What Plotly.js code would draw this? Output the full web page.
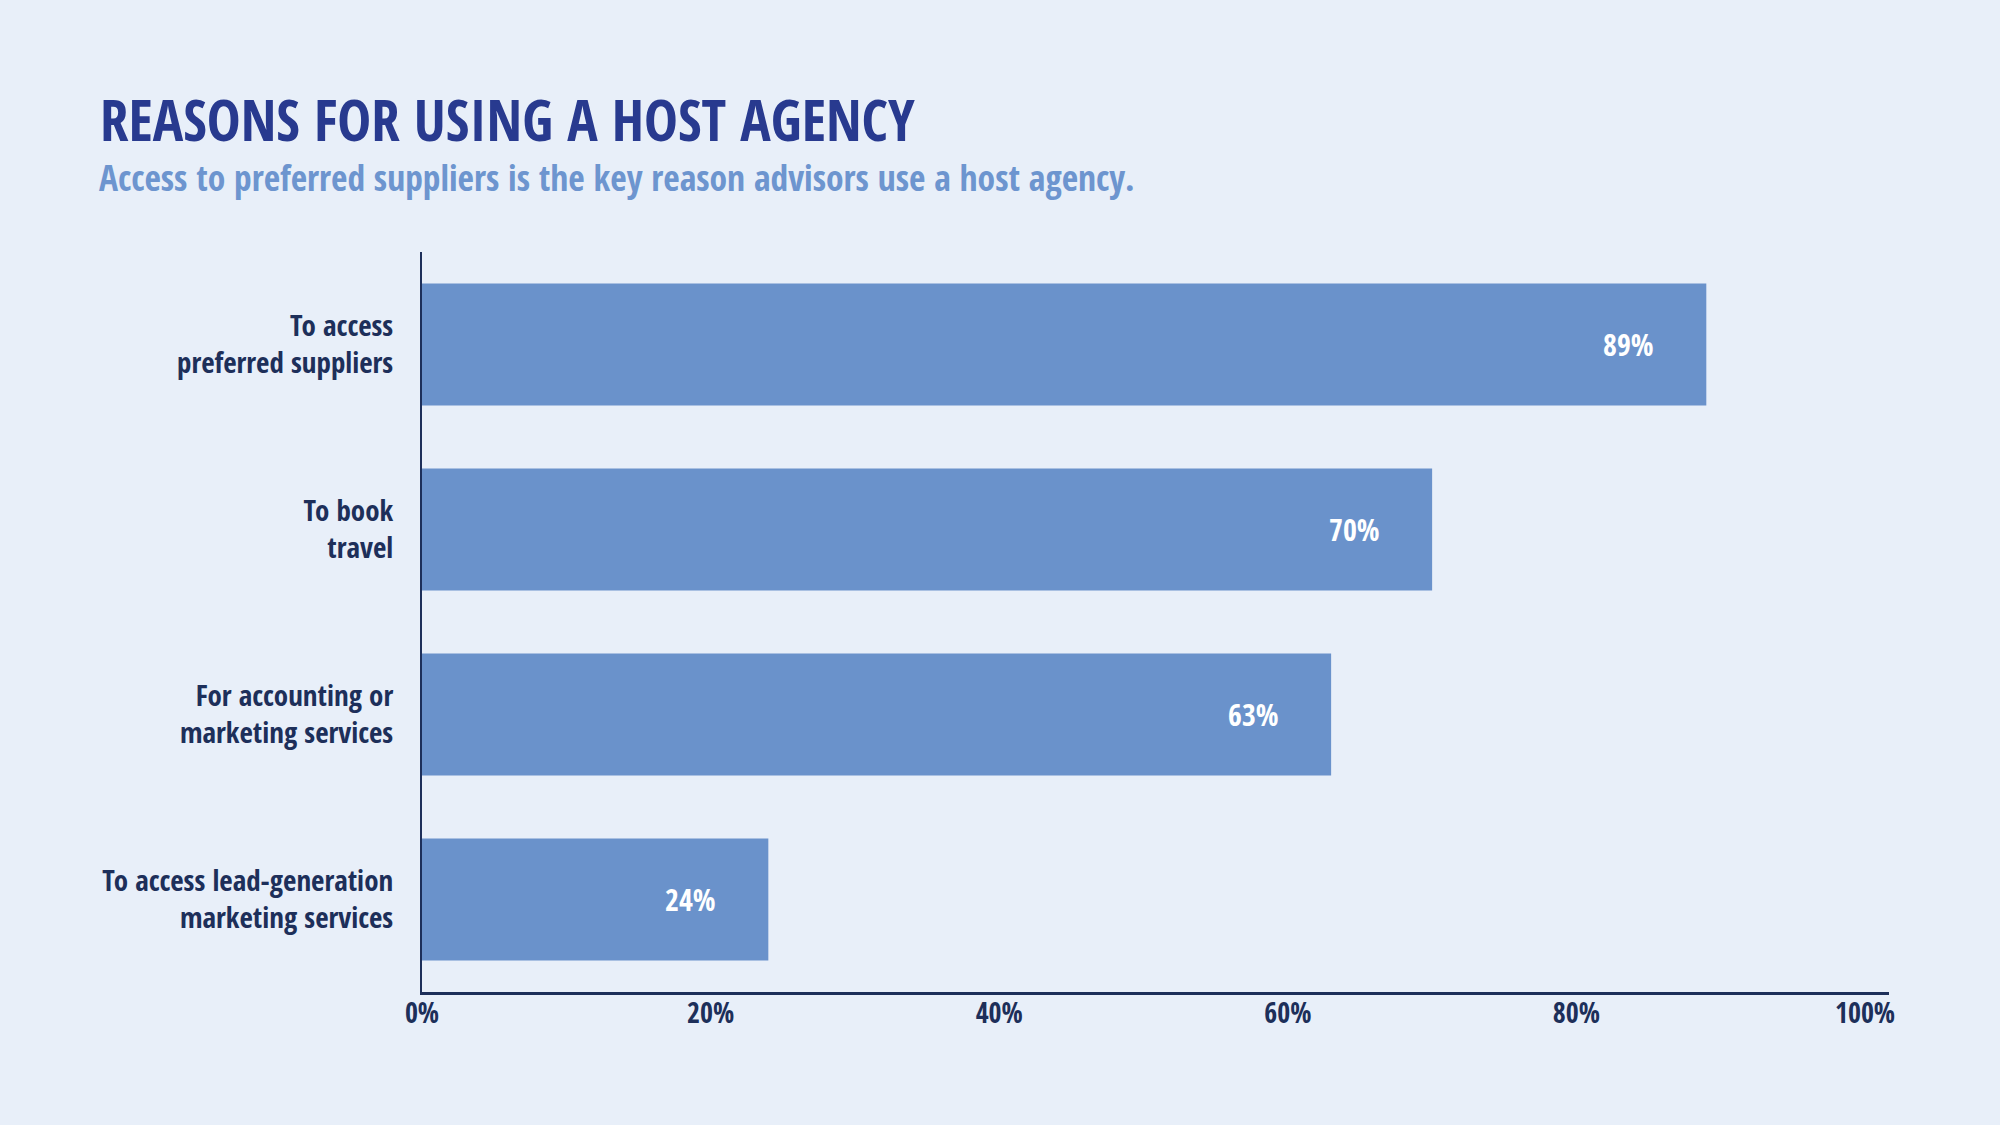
<!DOCTYPE html>
<html>
<head>
<meta charset="utf-8">
<script src="https://cdn.plot.ly/plotly-3.0.1.min.js"></script>
<style>
  html, body { margin: 0; padding: 0; background: #e8eff9; }
  #chart { width: 2000px; height: 1125px; }
</style>
</head>
<body>
<div id="chart"></div>
<script>
// Survey: why advisors work with a host agency (share of respondents, %)
const reasons = [
  "To access<br>preferred suppliers",
  "To book<br>travel",
  "For accounting or<br>marketing services",
  "To access lead-generation<br>marketing services"
];
const shares = [89, 70, 63, 24];
const valueLabels = ["89%", "70%", "63%", "24%"];
const tickValues = [0, 20, 40, 60, 80, 100];
const tickLabels = ["0%", "20%", "40%", "60%", "80%", "100%"];

const FONT = "'Open Sans Condensed', 'Roboto Condensed', 'DejaVu Sans Condensed', sans-serif";
const NAVY = "#1d2f5a";
const BAR = "#6a92cb";

const trace = {
  type: "bar",
  orientation: "h",
  x: shares,
  y: reasons,
  marker: { color: BAR, line: { width: 0 } },
  width: 0.66,
  hoverinfo: "skip"
};

// value labels sit inside the bar, a little in from its end
const valueNotes = shares.map((v, i) => ({
  x: v,
  y: reasons[i],
  xref: "x",
  yref: "y",
  text: valueLabels[i],
  showarrow: false,
  xanchor: "right",
  xshift: -50,
  font: { family: FONT, size: 30, color: "#ffffff", weight: 700 }
}));

const layout = {
  width: 2000,
  height: 1125,
  paper_bgcolor: "#e8eff9",
  plot_bgcolor: "#e8eff9",
  margin: { l: 422, r: 111, t: 252, b: 133 },
  showlegend: false,
  bargap: 0.34,
  title: {
    text: "REASONS FOR USING A HOST AGENCY",
    xref: "container",
    yref: "container",
    x: 0.05,
    xanchor: "left",
    y: 1 - 101 / 1125,
    yanchor: "top",
    font: { family: FONT, size: 57, color: "#283a8f", weight: 700 }
  },
  annotations: [
    {
      text: "Access to preferred suppliers is the key reason advisors use a host agency.",
      xref: "paper",
      yref: "paper",
      x: (97 - 422) / 1467,
      y: (992 - 151) / 740,
      xanchor: "left",
      yanchor: "top",
      showarrow: false,
      font: { family: FONT, size: 35.6, color: "#6d95cf", weight: 700 }
    }
  ].concat(valueNotes),
  xaxis: {
    // the axis line runs a little past the 100% mark
    range: [0, 101.66],
    tickvals: tickValues,
    ticktext: tickLabels,
    showgrid: false,
    zeroline: false,
    showline: true,
    linecolor: NAVY,
    linewidth: 3,
    ticks: "",
    ticklabelstandoff: -6,
    tickfont: { family: FONT, size: 28, color: NAVY, weight: 700 },
    fixedrange: true
  },
  yaxis: {
    range: [3.5, -0.5],
    showgrid: false,
    zeroline: false,
    showline: true,
    linecolor: NAVY,
    linewidth: 2,
    ticks: "",
    ticklabelstandoff: 21,
    tickfont: { family: FONT, size: 29, color: NAVY, weight: 700 },
    fixedrange: true
  }
};

Plotly.newPlot("chart", [trace], layout, { displayModeBar: false, staticPlot: true });
</script>
</body>
</html>
